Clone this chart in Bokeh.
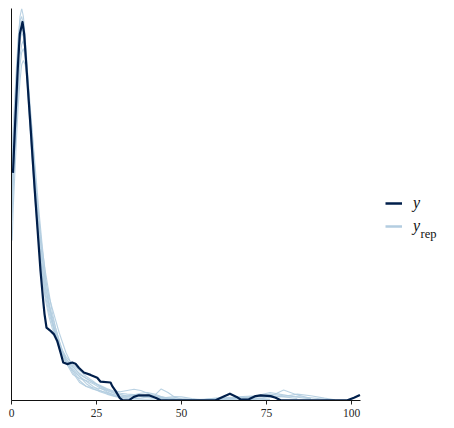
from bokeh.plotting import figure
from bokeh.models import Range1d, FixedTicker, Legend, LegendItem, Label
from bokeh.embed import file_html
from bokeh.resources import INLINE

# ---- data -------------------------------------------------------------
# observed y density (x, density)
y_x = [0.44, 0.97, 1.85, 2.44, 3.24, 3.74, 4.41, 5.68, 6.18, 6.85, 7.65, 8.53,
       9.32, 9.71, 10.29, 11.47, 12.44, 13.44, 14.41, 15.21, 16.38, 17.85, 18.82,
       19.79, 21.26, 23.24, 25.21, 26.18, 29.12, 29.62, 30.59, 31.85, 32.65, 34.5,
       35.97, 37.44, 40.38, 42.35, 43.82, 60.0, 62.06, 64.21, 66.18, 67.35, 69.79,
       71.76, 73.24, 76.18, 77.65, 79.12, 98.74, 100.68, 102.44]
y_d = [0.0569, 0.0674, 0.0831, 0.0916, 0.0946, 0.0916, 0.0831, 0.0674, 0.0609,
       0.0524, 0.0429, 0.0324, 0.0249, 0.0216, 0.0182, 0.0174, 0.0166, 0.0149,
       0.0120, 0.0095, 0.0091, 0.0095, 0.0092, 0.0082, 0.0070, 0.0064, 0.0057,
       0.0047, 0.0045, 0.0036, 0.0024, 0.0006, 0.0001, 0.00005, 0.0009, 0.0013,
       0.0013, 0.0007, 0.00005, 0.00005, 0.0009, 0.0017, 0.0009, 0.00025, 0.0003,
       0.0011, 0.0013, 0.0011, 0.0007, 0.00005, 0.00005, 0.0007, 0.0014]

# replicated densities on a common x grid
grid = [0.2, 0.5, 1, 1.5, 2, 2.5, 3, 3.5, 4, 4.5, 5, 6, 7, 8, 9, 10, 11, 12, 13,
        14, 15, 16, 18, 20, 22, 24, 26, 28, 30, 32, 34, 36, 38, 40, 42, 44, 46,
        48, 50, 53, 56, 60, 64, 68, 72, 76, 80, 84, 88, 92, 95]

yrep_1 = [0.050, 0.060, 0.070, 0.080, 0.090, 0.096, 0.098, 0.096, 0.091, 0.085,
          0.078, 0.064, 0.051, 0.040, 0.032, 0.026, 0.022, 0.019, 0.016, 0.014,
          0.012, 0.0105, 0.0085, 0.0068, 0.0055, 0.0045, 0.0036, 0.0028, 0.0022,
          0.0018, 0.0016, 0.0015, 0.0013, 0.0010, 0.0008, 0.0007, 0.0006, 0.0004,
          0.0002, 0.0001, 0.0001, 0.0003, 0.0006, 0.0004, 0.0002, 0.0001]
yrep_2 = [0.045, 0.055, 0.066, 0.077, 0.086, 0.091, 0.093, 0.092, 0.088, 0.083,
          0.077, 0.065, 0.054, 0.044, 0.036, 0.029, 0.024, 0.020, 0.017, 0.0145,
          0.0125, 0.011, 0.009, 0.0075, 0.006, 0.0048, 0.0035, 0.0025, 0.0018,
          0.0014, 0.0012, 0.0014, 0.0018, 0.0020, 0.0016, 0.0010, 0.0006, 0.0003,
          0.0002, 0.0001, 0.0001, 0.0002, 0.0005, 0.0010, 0.0012, 0.0020, 0.0014,
          0.0008, 0.0004]
yrep_3 = [0.052, 0.058, 0.064, 0.071, 0.079, 0.086, 0.089, 0.090, 0.088, 0.084,
          0.079, 0.068, 0.056, 0.045, 0.036, 0.030, 0.026, 0.023, 0.020, 0.017,
          0.0145, 0.012, 0.0085, 0.0065, 0.0055, 0.0045, 0.0038, 0.0030, 0.0024,
          0.0022, 0.0025, 0.0028, 0.0025, 0.0018, 0.0012, 0.0008, 0.0005, 0.0003,
          0.0002, 0.0001, 0.0002, 0.0006, 0.0008, 0.0006, 0.0010, 0.0016, 0.0012,
          0.0010, 0.0007, 0.0003, 0.0001]
yrep_4 = [0.058, 0.066, 0.074, 0.082, 0.089, 0.094, 0.095, 0.093, 0.088, 0.082,
          0.075, 0.062, 0.050, 0.041, 0.034, 0.028, 0.024, 0.021, 0.018, 0.015,
          0.012, 0.010, 0.0075, 0.006, 0.0048, 0.0035, 0.0025, 0.0018, 0.0012,
          0.0008, 0.0006, 0.0005, 0.0006, 0.0009, 0.0012, 0.0029, 0.0020, 0.0008,
          0.0003, 0.0001, 0.0001, 0.0001, 0.0003, 0.0005, 0.0004, 0.0002]
yrep_5 = [0.047, 0.054, 0.062, 0.070, 0.078, 0.084, 0.087, 0.088, 0.086, 0.082,
          0.077, 0.066, 0.055, 0.046, 0.038, 0.032, 0.027, 0.022, 0.018, 0.015,
          0.0125, 0.0105, 0.008, 0.006, 0.0042, 0.0030, 0.0022, 0.0016, 0.0011,
          0.0007, 0.0005, 0.0004, 0.0003, 0.0003, 0.0004, 0.0006, 0.0008, 0.0010,
          0.0009, 0.0005, 0.0002, 0.0001, 0.0001, 0.0002, 0.0004, 0.0010, 0.0026,
          0.0014, 0.0005]
yrep_6 = [0.055, 0.063, 0.071, 0.079, 0.086, 0.090, 0.092, 0.091, 0.087, 0.081,
          0.074, 0.061, 0.049, 0.039, 0.031, 0.025, 0.021, 0.018, 0.016, 0.014,
          0.012, 0.010, 0.0070, 0.0045, 0.0035, 0.0032, 0.0030, 0.0026, 0.0020,
          0.0015, 0.0010, 0.0008, 0.0010, 0.0014, 0.0013, 0.0009, 0.0005, 0.0003,
          0.0002, 0.0002, 0.0003, 0.0004, 0.0003, 0.0006, 0.0012, 0.0008, 0.0010,
          0.0016, 0.0012, 0.0006, 0.0002]
yrep_7 = [0.040, 0.048, 0.057, 0.066, 0.074, 0.080, 0.084, 0.085, 0.084, 0.081,
          0.077, 0.068, 0.058, 0.048, 0.039, 0.031, 0.025, 0.020, 0.016, 0.013,
          0.011, 0.0095, 0.0075, 0.005, 0.0035, 0.0028, 0.0024, 0.0020, 0.0015,
          0.0010, 0.0008, 0.0010, 0.0012, 0.0011, 0.0007, 0.0004, 0.0002, 0.0001,
          0.0001, 0.0001, 0.0002, 0.0005, 0.0007, 0.0009, 0.0006, 0.0003]
yrep_8 = [0.060, 0.068, 0.076, 0.084, 0.091, 0.095, 0.096, 0.094, 0.089, 0.083,
          0.076, 0.063, 0.051, 0.041, 0.033, 0.027, 0.023, 0.0195, 0.0165, 0.014,
          0.0115, 0.0095, 0.0065, 0.0055, 0.0050, 0.0042, 0.0032, 0.0022, 0.0014,
          0.0010, 0.0011, 0.0013, 0.0011, 0.0008, 0.0006, 0.0005, 0.0006, 0.0007,
          0.0005, 0.0003, 0.0002, 0.0002, 0.0003, 0.0006, 0.0009, 0.0012, 0.0009,
          0.0005]
yreps = [yrep_1, yrep_2, yrep_3, yrep_4, yrep_5, yrep_6, yrep_7, yrep_8]

x_ticks = [0, 25, 50, 75, 100]
x_axis_span = (0, 102.6)
y_limits = (0, 0.098)

DARK = "#011f4b"
LIGHT = "#b3cde0"
SERIF = "Liberation Serif"

# ---- figure -----------------------------------------------------------
FW = 435
PX_PER_UNIT = 349 / x_axis_span[1]
p = figure(frame_width=FW, frame_height=392, output_backend="svg",
           toolbar_location=None,
           x_range=Range1d(x_axis_span[0], FW / PX_PER_UNIT),
           y_range=Range1d(*y_limits), min_border_left=11, min_border_right=0,
           min_border_top=8, min_border_bottom=26)
p.outline_line_color = None
p.xgrid.visible = False
p.ygrid.visible = False
p.background_fill_color = "white"
p.border_fill_color = "white"

for d in yreps:
    p.line(grid[:len(d)], d, line_color=LIGHT, line_width=1.1, line_alpha=0.9)
p.line(y_x, y_d, line_color=DARK, line_width=2.2, line_join="round")

# x axis (line limited to the data span)
xa = p.xaxis[0]
xa.bounds = x_axis_span
xa.ticker = FixedTicker(ticks=x_ticks)
xa.minor_tick_line_color = None
xa.major_tick_in = 0
xa.major_tick_out = 4
xa.major_tick_line_color = "#222222"
xa.axis_line_color = "#111111"
xa.axis_line_width = 1
xa.major_label_text_font = SERIF
xa.major_label_text_font_size = "11.5px"
xa.major_label_text_color = "#262626"
xa.major_label_standoff = 4

# y axis: line only
ya = p.yaxis[0]
ya.ticker = FixedTicker(ticks=[])
ya.major_tick_line_color = None
ya.minor_tick_line_color = None
ya.major_tick_out = 0
ya.major_tick_in = 0
ya.major_label_text_font_size = "0px"
ya.major_label_standoff = 0
ya.axis_line_color = "#111111"
ya.axis_line_width = 1

# legend (key-only renderers: a single point each, so nothing shows in the plot)
r_y = p.line(y_x[:1], y_d[:1], line_color=DARK, line_width=2.5)
r_rep = p.line(grid[:1], yrep_1[:1], line_color=LIGHT, line_width=2.5)
legend = Legend(items=[LegendItem(label="y", renderers=[r_y]),
                       LegendItem(label="y", renderers=[r_rep])],
                location=(374, 164), padding=0, margin=0, spacing=3,
                glyph_width=17, glyph_height=20, label_standoff=11,
                border_line_color=None, background_fill_alpha=0,
                label_text_font=SERIF, label_text_font_style="italic",
                label_text_font_size="16px", label_text_color="#111111")
p.add_layout(legend, "center")
p.add_layout(Label(x=409, y=166.5, x_units="screen", y_units="screen",
                   text="rep", text_font=SERIF, text_font_size="12.5px",
                   text_color="#111111", text_baseline="alphabetic"))

open("out.html", "w").write(file_html(p, INLINE))
